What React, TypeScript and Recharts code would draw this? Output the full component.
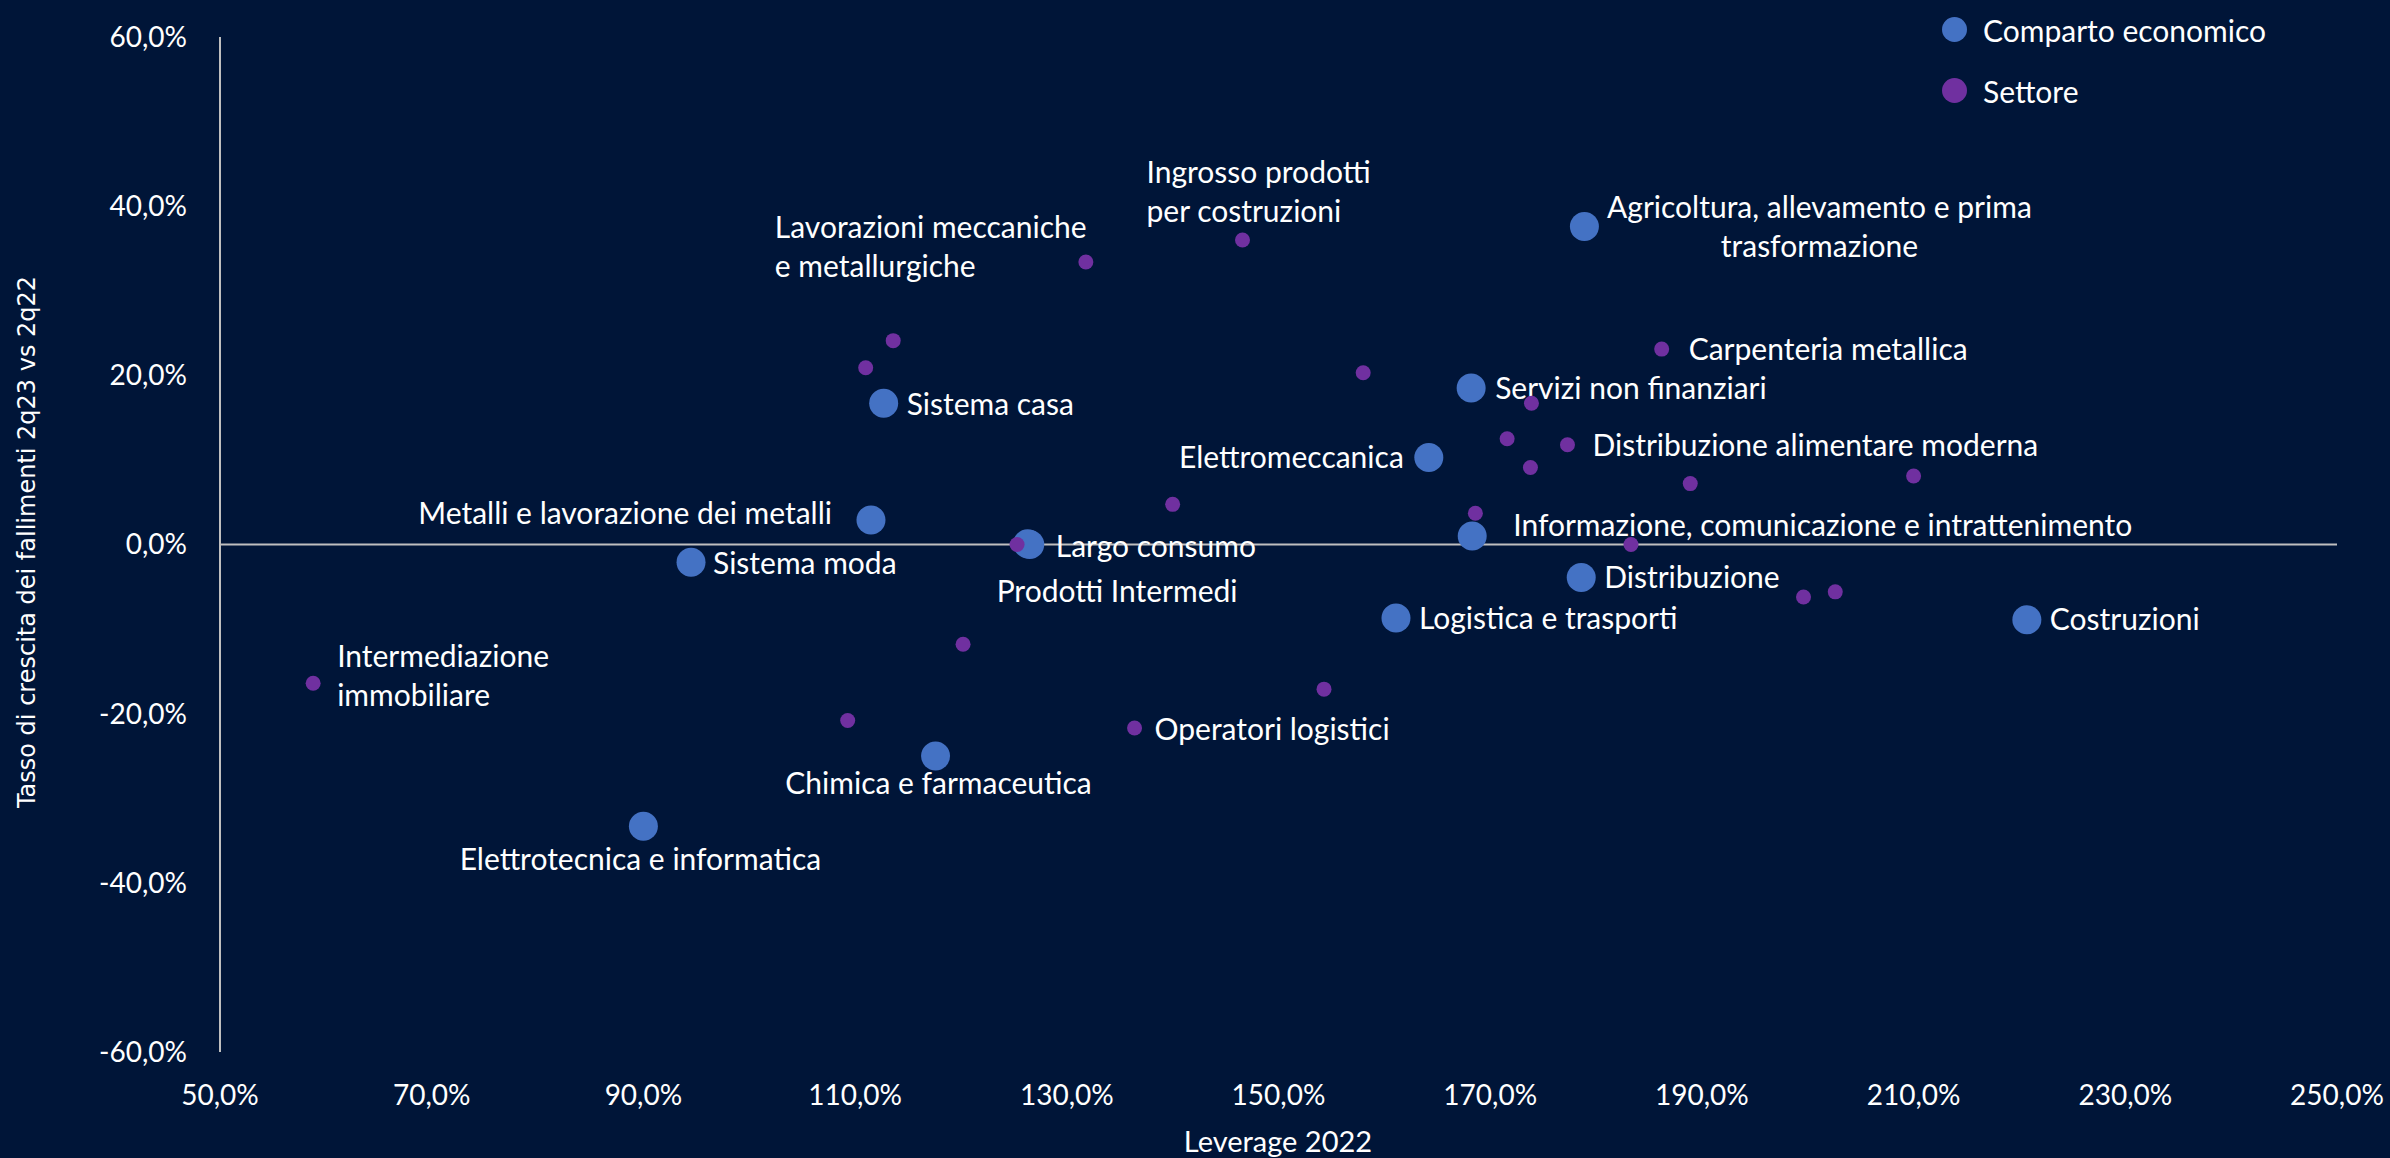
import React from 'react';
import { ScatterChart, Scatter, XAxis, YAxis, ReferenceLine, Legend } from 'recharts';

// Comparti economici (pallini grandi, blu)
const compartoNames = [
  'Agricoltura, allevamento e prima\ntrasformazione',
  'Servizi non finanziari',
  'Elettromeccanica',
  'Sistema casa',
  'Metalli e lavorazione dei metalli',
  'Largo consumo',
  'Prodotti Intermedi',
  'Sistema moda',
  'Informazione, comunicazione e intrattenimento',
  'Distribuzione',
  'Logistica e trasporti',
  'Costruzioni',
  'Chimica e farmaceutica',
  'Elettrotecnica e informatica',
];
const compartoLeverage = [178.9, 168.2, 164.2, 112.7, 111.5, 126.5, 126.3, 94.5, 168.3, 178.6, 161.1, 220.7, 117.6, 90.0];
const compartoGrowth = [37.6, 18.5, 10.3, 16.7, 2.9, 0.0, 0.1, -2.1, 1.0, -3.9, -8.7, -8.9, -25.0, -33.3];

// Settori (pallini piccoli, viola) - solo alcuni hanno l'etichetta
const settoreNames = [
  'Ingrosso prodotti\nper costruzioni',
  'Lavorazioni meccaniche\ne metallurgiche',
  '',
  '',
  '',
  'Carpenteria metallica',
  '',
  '',
  'Distribuzione alimentare moderna',
  '',
  '',
  '',
  '',
  '',
  '',
  '',
  '',
  '',
  '',
  'Intermediazione\nimmobiliare',
  '',
  'Operatori logistici',
  '',
];
const settoreLeverage = [146.6, 131.8, 113.6, 111.0, 158.0, 186.2, 173.9, 171.6, 177.3, 173.8, 188.9, 210.0, 140.0, 168.6, 125.3, 183.3, 199.6, 202.6, 120.2, 58.8, 109.3, 136.4, 154.3];
const settoreGrowth = [36.0, 33.4, 24.1, 20.9, 20.3, 23.1, 16.7, 12.5, 11.8, 9.1, 7.2, 8.1, 4.75, 3.7, 0.0, 0.0, -6.2, -5.6, -11.8, -16.4, -20.8, -21.7, -17.1];

const xTicks = [50, 70, 90, 110, 130, 150, 170, 190, 210, 230, 250];
const yTicks = [-60, -40, -20, 0, 20, 40, 60];

const seriesLabels = ['Comparto economico', 'Settore'];

const comparti = compartoNames.map((name, i) => ({ name, x: compartoLeverage[i], y: compartoGrowth[i] }));
const settori = settoreNames.map((name, i) => ({ name, x: settoreLeverage[i], y: settoreGrowth[i] }));

// where each data label sits relative to its dot (px)
type Placement = { dx: number; dy: number; anchor: 'start' | 'middle' | 'end' };
const labelPlacement: Record<string, Placement> = {
  'Agricoltura, allevamento e prima\ntrasformazione': { dx: 235, dy: -19, anchor: 'middle' },
  'Servizi non finanziari': { dx: 24, dy: 0, anchor: 'start' },
  'Elettromeccanica': { dx: -25, dy: 0, anchor: 'end' },
  'Sistema casa': { dx: 23, dy: 1, anchor: 'start' },
  'Metalli e lavorazione dei metalli': { dx: -39, dy: -6, anchor: 'end' },
  'Largo consumo': { dx: 26, dy: 2, anchor: 'start' },
  'Prodotti Intermedi': { dx: -31, dy: 48, anchor: 'start' },
  'Sistema moda': { dx: 22, dy: 1, anchor: 'start' },
  'Informazione, comunicazione e intrattenimento': { dx: 41, dy: -11, anchor: 'start' },
  'Distribuzione': { dx: 23, dy: 0, anchor: 'start' },
  'Logistica e trasporti': { dx: 23, dy: 0, anchor: 'start' },
  'Costruzioni': { dx: 23, dy: 0, anchor: 'start' },
  'Chimica e farmaceutica': { dx: 3, dy: 28, anchor: 'middle' },
  'Elettrotecnica e informatica': { dx: -3, dy: 33, anchor: 'middle' },
  'Ingrosso prodotti\nper costruzioni': { dx: -96, dy: -68, anchor: 'start' },
  'Lavorazioni meccaniche\ne metallurgiche': { dx: -311, dy: -34, anchor: 'start' },
  'Carpenteria metallica': { dx: 27, dy: 0, anchor: 'start' },
  'Distribuzione alimentare moderna': { dx: 25, dy: 1, anchor: 'start' },
  'Intermediazione\nimmobiliare': { dx: 24, dy: -27, anchor: 'start' },
  'Operatori logistici': { dx: 20, dy: 1, anchor: 'start' },
};

const BLUE = '#4472C4';
const PURPLE = '#7030A0';
const AXIS = '#BFBFBF';
const FONT = 'Lato, "Open Sans", sans-serif';
const LINE_GAP = 39;
const LABEL_SIZE = 30;

const fmtPct = (v: number) => `${v.toFixed(1).replace('.', ',')}%`;

const makeDot = (color: string, r: number) => (props: any) => {
  const { cx, cy, payload } = props;
  const name: string = payload?.name || '';
  const place = labelPlacement[name];
  return (
    <g>
      <circle cx={cx} cy={cy} r={r} fill={color} />
      {name && place &&
        name.split('\n').map((line, i) => (
          <text
            key={i}
            x={cx + place.dx}
            y={cy + place.dy + i * LINE_GAP}
            dy="0.35em"
            textAnchor={place.anchor}
            fill="#FFFFFF"
            fontFamily={FONT}
            fontSize={LABEL_SIZE}
          >
            {line}
          </text>
        ))}
    </g>
  );
};

const renderLegend = () => (
  <div style={{ fontFamily: FONT, fontSize: LABEL_SIZE, color: '#FFFFFF' }}>
    {seriesLabels.map((label, i) => (
      <div key={label} style={{ display: 'flex', alignItems: 'center', height: 61 }}>
        <span
          style={{
            width: 25,
            height: 25,
            borderRadius: '50%',
            background: i === 0 ? BLUE : PURPLE,
            display: 'inline-block',
            marginRight: 16,
          }}
        />
        <span>{label}</span>
      </div>
    ))}
  </div>
);

export default function App() {
  return (
    <div style={{ position: 'absolute', left: 0, top: 0, width: 2390, height: 1158, background: '#001538' }}>
      <ScatterChart width={2390} height={1158} margin={{ top: 37, right: 53, bottom: 46, left: 120 }}>
        <XAxis
          type="number"
          dataKey="x"
          domain={[50, 250]}
          ticks={xTicks}
          tickFormatter={fmtPct}
          axisLine={false}
          tickLine={false}
          tickSize={0}
          tickMargin={33}
          height={60}
          tick={{ fill: '#FFFFFF', fontSize: 28, fontFamily: FONT }}
          label={() => (
            <text x={1278} y={1152} textAnchor="middle" fill="#FFFFFF" fontFamily={FONT} fontSize={29}>
              Leverage 2022
            </text>
          )}
        />
        <YAxis
          type="number"
          dataKey="y"
          domain={[-60, 60]}
          ticks={yTicks}
          tickFormatter={fmtPct}
          axisLine={{ stroke: AXIS, strokeWidth: 2 }}
          tickLine={false}
          tickSize={0}
          tickMargin={33}
          width={100}
          tick={{ fill: '#FFFFFF', fontSize: 28, fontFamily: FONT }}
          label={() => (
            <text
              x={27}
              y={542}
              transform="rotate(-90 27 542)"
              textAnchor="middle"
              dominantBaseline="central"
              fill="#FFFFFF"
              fontFamily='"DejaVu Sans", sans-serif'
              fontSize={24}
            >
              Tasso di crescita dei fallimenti 2q23 vs 2q22
            </text>
          )}
        />
        <ReferenceLine y={0} stroke={AXIS} strokeWidth={2} />
        <Legend
          layout="horizontal"
          verticalAlign="middle"
          align="center"
          content={renderLegend}
          wrapperStyle={{ position: 'absolute', left: 1942, top: -1, width: 440, height: 122 }}
        />
        <Scatter
          name={seriesLabels[0]}
          data={comparti}
          fill={BLUE}
          shape={makeDot(BLUE, 14.5)}
          isAnimationActive={false}
        />
        <Scatter
          name={seriesLabels[1]}
          data={settori}
          fill={PURPLE}
          shape={makeDot(PURPLE, 7.5)}
          isAnimationActive={false}
        />
      </ScatterChart>
    </div>
  );
}
